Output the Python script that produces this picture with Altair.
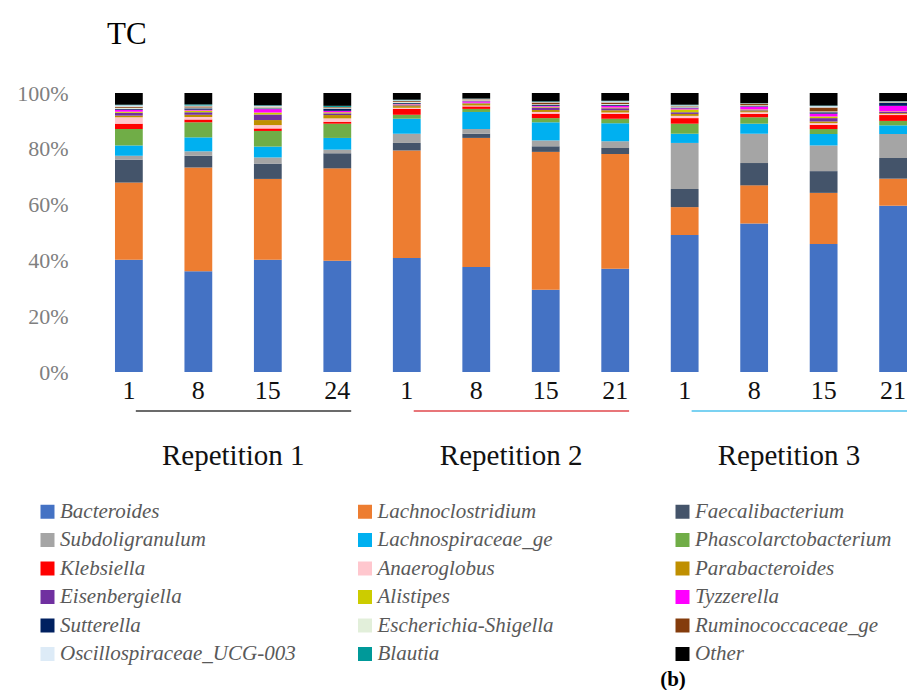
import altair as alt
import pandas as pd

samples = ["R1-1", "R1-8", "R1-15", "R1-24", "R2-1", "R2-8", "R2-15", "R2-21",
           "R3-1", "R3-8", "R3-15", "R3-21"]

taxa = ["Bacteroides", "Lachnoclostridium", "Faecalibacterium", "Subdoligranulum",
        "Lachnospiraceae_ge", "Phascolarctobacterium", "Klebsiella", "Anaeroglobus",
        "Parabacteroides", "Eisenbergiella", "Alistipes", "Tyzzerella", "Sutterella",
        "Escherichia-Shigella", "Ruminococcaceae_ge", "Oscillospiraceae_UCG-003",
        "Blautia", "Other"]

colors = ["#4472C4", "#ED7D31", "#44546A", "#A5A5A5", "#00B0F0", "#70AD47", "#FF0000",
          "#FFC7CE", "#BF8F00", "#7030A0", "#CCCC00", "#FF00FF", "#002060", "#E2EFDA",
          "#843C0C", "#DDEBF7", "#009999", "#000000"]

bacteroides = [40.2, 36.1, 40.2, 39.9, 40.9, 37.6, 29.5, 37.0, 49.1, 53.2, 45.9, 59.6]
lachnoclostridium = [27.7, 37.2, 29.0, 33.1, 38.5, 46.3, 49.4, 41.1, 10.0, 13.7, 18.3, 9.7]
faecalibacterium = [8.2, 4.2, 5.5, 5.4, 2.7, 1.5, 2.0, 2.2, 6.5, 8.0, 7.8, 7.4]
subdoligranulum = [1.4, 1.6, 2.2, 1.3, 3.3, 1.7, 2.1, 2.4, 16.5, 10.5, 9.2, 8.6]
lachnospiraceae_ge = [3.7, 5.0, 3.9, 4.2, 5.4, 6.1, 6.5, 6.5, 3.3, 3.6, 4.1, 3.1]
phascolarctobacterium = [5.9, 5.4, 5.6, 5.1, 1.4, 1.1, 1.5, 1.6, 3.6, 2.3, 1.8, 1.6]
klebsiella = [1.9, 1.0, 0.9, 0.7, 2.1, 0.9, 1.6, 1.7, 2.0, 1.2, 1.5, 2.1]
anaeroglobus = [2.3, 0.9, 1.2, 1.2, 0.4, 0.3, 0.6, 0.5, 0.8, 0.6, 0.6, 0.4]
parabacteroides = [0.6, 0.8, 1.8, 1.2, 0.6, 0.6, 0.7, 0.8, 0.7, 0.4, 0.6, 0.3]
eisenbergiella = [1.0, 0.9, 2.0, 0.6, 0.3, 0.2, 0.9, 0.7, 0.6, 0.3, 1.2, 0.4]
alistipes = [0.4, 0.6, 0.7, 0.4, 0.3, 0.2, 0.3, 0.3, 1.0, 0.3, 0.6, 0.2]
tyzzerella = [0.7, 0.3, 1.2, 0.5, 0.2, 0.5, 0.3, 0.6, 0.4, 1.0, 1.0, 2.0]
sutterella = [0.3, 0.5, 0.3, 0.8, 0.3, 0.1, 0.4, 0.4, 0.3, 0.2, 0.5, 1.1]
escherichia_shigella = [0.4, 0.3, 0.4, 0.2, 0.4, 0.3, 0.2, 0.3, 0.4, 0.3, 0.3, 0.2]
ruminococcaceae_ge = [0.4, 0.4, 0.2, 0.3, 0.3, 0.3, 0.6, 0.5, 0.2, 0.6, 1.4, 0.2]
oscillospiraceae_ucg003 = [0.5, 0.3, 0.3, 0.1, 0.3, 0.2, 0.2, 0.4, 0.2, 0.1, 0.5, 0.1]
blautia = [0.2, 0.4, 0.2, 0.4, 0.2, 0.1, 0.2, 0.2, 0.2, 0.1, 0.2, 0.1]
other = [4.2, 4.1, 4.4, 4.6, 2.4, 2.0, 3.0, 2.8, 4.2, 3.6, 4.5, 2.9]

series = [bacteroides, lachnoclostridium, faecalibacterium, subdoligranulum,
          lachnospiraceae_ge, phascolarctobacterium, klebsiella, anaeroglobus,
          parabacteroides, eisenbergiella, alistipes, tyzzerella, sutterella,
          escherichia_shigella, ruminococcaceae_ge, oscillospiraceae_ucg003,
          blautia, other]

rep_names = ["Repetition 1", "Repetition 2", "Repetition 3"]
rep_first = ["R1-1", "R2-1", "R3-1"]
rep_mid = ["R1-8", "R2-8", "R3-8"]
rep_last = ["R1-24", "R2-21", "R3-21"]
rep_colors = ["#3a3a3a", "#E0474C", "#4FC3EE"]

rows = []
for ti, (name, vals) in enumerate(zip(taxa, series)):
    for si, s in enumerate(samples):
        rows.append({"sample": s, "taxon": name, "value": vals[si], "idx": ti})
df = pd.DataFrame(rows)

reps = pd.DataFrame({"rep": rep_names, "first": rep_first, "mid": rep_mid,
                     "last": rep_last, "col": rep_colors})

serif = "Liberation Serif"

xscale = alt.Scale(domain=samples, paddingInner=0.6, paddingOuter=0.151, align=1)

bars = alt.Chart(df).mark_bar().encode(
    x=alt.X("sample:N", scale=xscale, sort=samples,
            axis=alt.Axis(title=None, labelAngle=0, domain=False, ticks=False,
                          labelFont=serif, labelFontSize=26, labelColor="#111111",
                          labelPadding=5,
                          labelExpr="split(datum.label, '-')[1]")),
    y=alt.Y("value:Q", stack="zero",
            scale=alt.Scale(domain=[0, 100], nice=False),
            axis=alt.Axis(title=None, values=[0, 20, 40, 60, 80, 100], grid=False,
                          domain=False, ticks=False, labelFont=serif,
                          labelFontSize=22, labelColor="#7F7F7F", labelPadding=26,
                          labelExpr="datum.value + '%'")),
    color=alt.Color("taxon:N", scale=alt.Scale(domain=taxa, range=colors),
                    legend=alt.Legend(orient="none", legendX=-57, legendY=408,
                                      direction="horizontal",
                                      columns=3, title=None, symbolType="square",
                                      symbolSize=196, symbolStrokeWidth=0,
                                      labelFont=serif, labelFontStyle="italic",
                                      labelFontSize=21, labelColor="#595959",
                                      labelOffset=2, labelLimit=400,
                                      columnPadding=58.5, rowPadding=6.5,
                                      gridAlign="all", padding=0)),
    order=alt.Order("idx:Q", sort="ascending"),
)

rules = alt.Chart(reps).mark_rule(strokeWidth=1.5).encode(
    x=alt.X("first:N", bandPosition=0.75, scale=xscale, sort=samples),
    x2=alt.X2("last:N", bandPosition=1),
    y=alt.value(318),
    color=alt.Color("col:N", scale=None),
)

rep_text = alt.Chart(reps).mark_text(font=serif, fontSize=29, color="#111111",
                                     baseline="middle", align="center", dx=21).encode(
    x=alt.X("mid:N", bandPosition=1, scale=xscale, sort=samples),
    y=alt.value(363),
    text="rep:N",
)

title_text = alt.Chart(pd.DataFrame({"t": ["TC"]})).mark_text(
    font=serif, fontSize=31, color="#000000",
    baseline="alphabetic", align="left").encode(
    x=alt.value(13), y=alt.value(-49), text="t:N")

btext = alt.Chart(pd.DataFrame({"t": ["(b)"]})).mark_text(
    font=serif, fontSize=21, fontWeight="bold", color="#000000",
    baseline="middle", align="center").encode(
    x=alt.value(579), y=alt.value(587), text="t:N")

chart = alt.layer(bars, rules, rep_text, title_text, btext).properties(
    width=813, height=279,
    padding={"left": 86, "top": 85, "right": 0, "bottom": 318},
    autosize=alt.AutoSizeParams(type="none"),
).configure_view(stroke=None)

chart.save("out.html", embed_options={"renderer": "svg", "actions": False})
